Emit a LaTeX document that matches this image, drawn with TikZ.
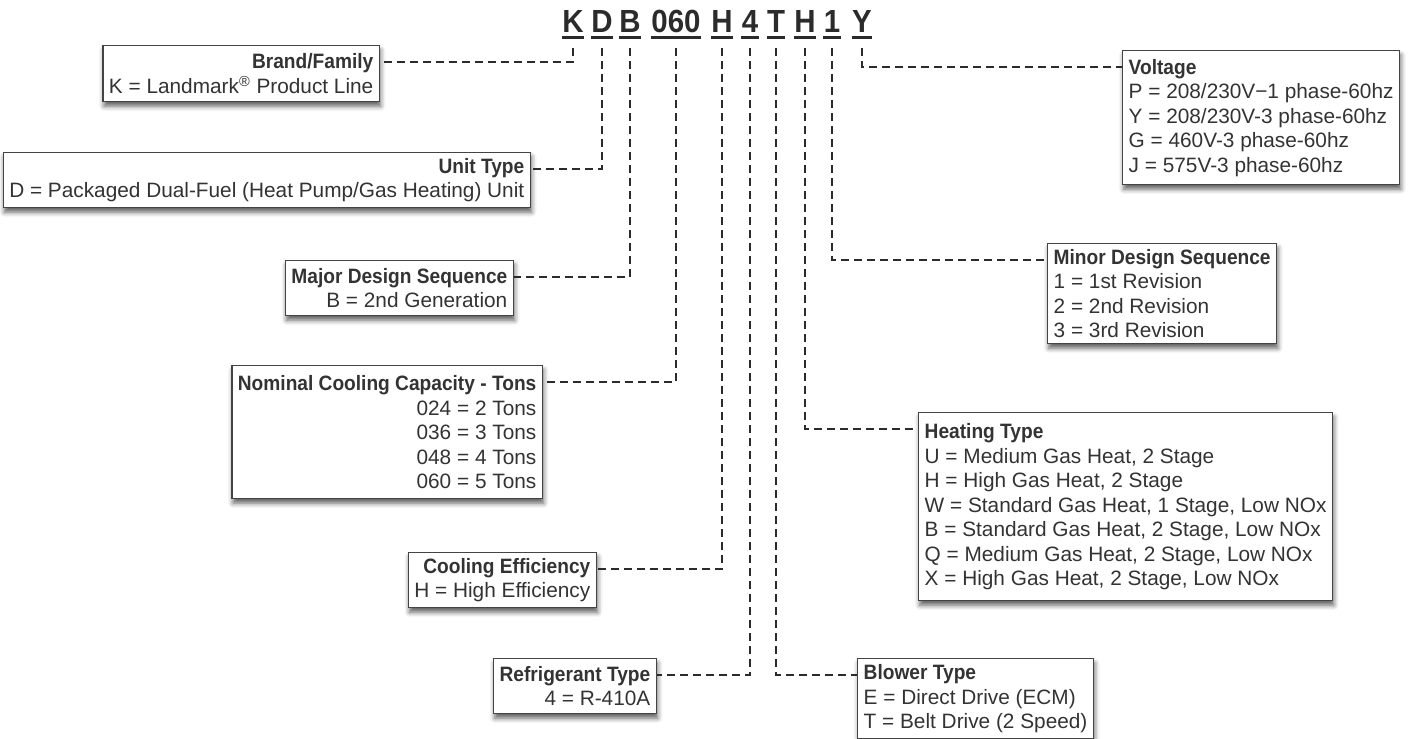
\documentclass[tikz,border=0pt]{standalone}
\usepackage{fontspec}
\setmainfont{Liberation Sans}[BoldFeatures={FakeStretch=0.92}]
\usetikzlibrary{calc,shadows.blur}
\definecolor{codegray}{HTML}{2B2B2B}
\definecolor{textgray}{HTML}{333333}
\definecolor{boxgray}{HTML}{444444}

\begin{document}
\begin{tikzpicture}[x=0.5pt, y=-0.5pt,
  keybox/.style={draw=boxgray, line width=0.7pt, fill=white, inner xsep=3pt, inner ysep=2pt, font=\fontsize{10.4}{12.25}\selectfont, text=textgray, blur shadow={shadow xshift=0.6pt, shadow yshift=-2.2pt, shadow blur radius=2.5pt, shadow opacity=65}},
  lbox/.style={keybox, anchor=north east, align=right},
  rbox/.style={keybox, anchor=north west, align=left},
  code/.style={font=\fontsize{16}{16}\selectfont\bfseries, text=codegray, inner sep=0pt, anchor=base},
  uline/.style={line width=1.5pt, draw=codegray},
  conn/.style={line width=1.3pt, dash pattern=on 4pt off 2.5pt, draw=codegray},
]
\clip (0,0) rectangle (1411,738);

% model number
\foreach \n/\t/\x in {cBrand/K/573, cUnit/D/602, cMajor/B/630, cCap/060/676, cEff/H/722, cRef/4/750, cBlow/T/776, cHeat/H/805, cMinor/1/832, cVolt/Y/862}{
  \node[code] (\n) at (\x,33) {\t};
  \draw[uline] ($(\n.base west)+(0,5)$) -- ($(\n.base east)+(0,5)$);
}

% left side
\node[lbox, minimum height=28pt] (brand) at (380,45) {\textbf{Brand/Family}\\K = Landmark\textsuperscript{®} Product Line};
\node[lbox, minimum height=27.5pt] (unit) at (531,152) {\textbf{Unit Type}\\D = Packaged Dual-Fuel (Heat Pump/Gas Heating) Unit};
\node[lbox, minimum height=27.5pt] (major) at (514,260) {\textbf{Major Design Sequence}\\B = 2nd Generation};
\node[lbox, minimum height=66.5pt] (cap) at (543,365) {\textbf{Nominal Cooling Capacity - Tons}\\024 = 2 Tons\\036 = 3 Tons\\048 = 4 Tons\\060 = 5 Tons};
\node[lbox, minimum height=27.5pt] (eff) at (597,552) {\textbf{Cooling Efficiency}\\H = High Efficiency};
\node[lbox, minimum height=27.5pt] (ref) at (657,658) {\textbf{Refrigerant Type}\\4 = R-410A};

% right side
\node[rbox, minimum height=67pt] (volt) at (1122,50) {\textbf{Voltage}\\P = 208/230V−1 phase-60hz\\Y = 208/230V-3 phase-60hz\\G = 460V-3 phase-60hz\\J = 575V-3 phase-60hz};
\node[rbox, minimum height=50pt] (minor) at (1047,243) {\textbf{Minor Design Sequence}\\1 = 1st Revision\\2 = 2nd Revision\\3 = 3rd Revision};
\node[rbox, minimum height=94pt] (heat) at (918,412) {\textbf{Heating Type}\\U = Medium Gas Heat, 2 Stage\\H = High Gas Heat, 2 Stage\\W = Standard Gas Heat, 1 Stage, Low NOx\\B = Standard Gas Heat, 2 Stage, Low NOx\\Q = Medium Gas Heat, 2 Stage, Low NOx\\X = High Gas Heat, 2 Stage, Low NOx};
\node[rbox, minimum height=40pt] (blow) at (857,658) {\textbf{Blower Type}\\E = Direct Drive (ECM)\\T = Belt Drive (2 Speed)};

% leaders
\foreach \c/\b in {cBrand/brand, cUnit/unit, cMajor/major, cCap/cap, cEff/eff, cRef/ref}
  \draw[conn] ($(\c.base)+(0,15)$) |- ($(\b.north east)+(0,17)$);
\foreach \c/\b in {cBlow/blow, cHeat/heat, cMinor/minor, cVolt/volt}
  \draw[conn] ($(\c.base)+(0,15)$) |- ($(\b.north west)+(0,17)$);

\end{tikzpicture}
\end{document}
